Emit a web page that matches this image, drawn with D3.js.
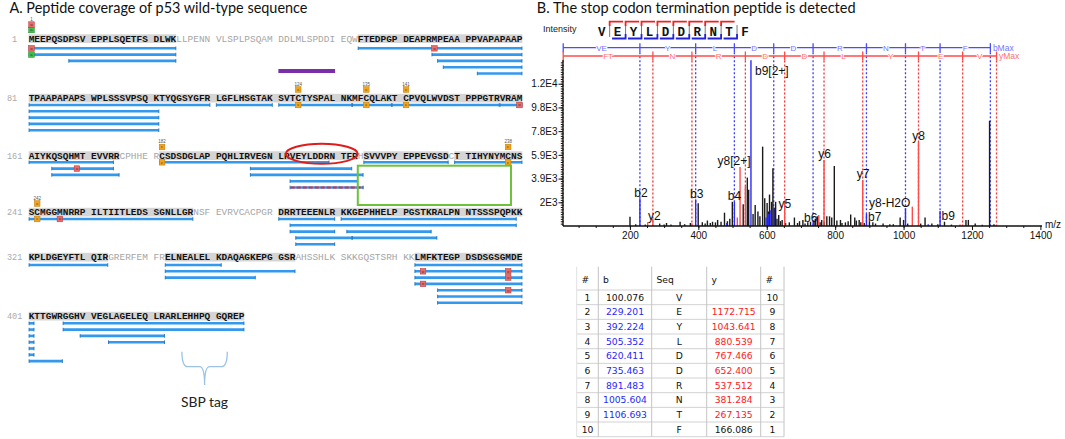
<!DOCTYPE html>
<html><head><meta charset="utf-8">
<script src="https://cdn.jsdelivr.net/npm/d3@7"></script>
<style>body{margin:0;background:#fff}svg{display:block}</style>
</head><body>
<svg id="c" width="1065" height="439"></svg>
<script>
// ================= DATA =================
const sequenceRows = [
  "MEEPQSDPSV EPPLSQETFS DLWKLLPENN VLSPLPSQAM DDLMLSPDDI EQWFTEDPGP DEAPRMPEAA PPVAPAPAAP",
  "TPAAPAPAPS WPLSSSVPSQ KTYQGSYGFR LGFLHSGTAK SVTCTYSPAL NKMFCQLAKT CPVQLWVDST PPPGTRVRAM",
  "AIYKQSQHMT EVVRRCPHHE RCSDSDGLAP PQHLIRVEGN LRVEYLDDRN TFRHSVVVPY EPPEVGSDCT TIHYNYMCNS",
  "SCMGGMNRRP ILTIITLEDS SGNLLGRNSF EVRVCACPGR DRRTEEENLR KKGEPHHELP PGSTKRALPN NTSSSPQPKK",
  "KPLDGEYFTL QIRGRERFEM FRELNEALEL KDAQAGKEPG GSRAHSSHLK SKKGQSTSRH KKLMFKTEGP DSDSGSGMDE",
  "KTTGWRGGHV VEGLAGELEQ LRARLEHHPQ GQREP"
];
const rowStartNumbers = [1, 81, 161, 241, 321, 401];
const coveredRanges = [[1,24],[54,175],[182,213],[215,228],[230,267],[281,333],[343,363],[383,435]];
// peptide: [start residue, end residue, lane]
const peptides = [
  [1,24,0],[54,80,0],[1,24,1],[66,80,1],[8,24,2],[67,80,2],[68,80,3],[73,80,4],
  [81,110,0],[111,120,0],[121,132,0],[133,139,0],[140,156,0],[157,160,0],
  [81,101,1],[81,101,2],[81,101,3],[81,101,4],
  [161,174,0],[182,209,0],[215,228,0],[230,240,0],[165,174,1],[197,212,1],
  [165,175,2],[197,214,2],[203,213,3],[203,214,4],
  [241,267,0],[281,290,0],[291,319,0],[283,319,1],[283,290,2],[292,305,2],
  [284,292,3],[293,306,3],[284,290,4],
  [321,333,0],[343,351,0],[383,400,0],[343,363,1],[383,400,1],[343,357,2],[383,400,2],
  [383,400,3],[387,400,4],[387,400,5],[387,400,6],
  [401,401,0],[407,435,0],[401,401,1],[407,435,1],[401,401,2],[410,422,2],
  [401,401,3],[414,422,3],[401,401,4],[401,401,5],[401,406,6]
];
const stopPeptide = [203, 214, 4];
const highlightedRegion = [41, 50];
const stopRegion = [214, 238];
const circledPeptide = [203, 213];
const sbpTag = [426, 432];
// modifications above the sequence: [residue, type]
const aboveMods = [[1,'A'],[1,'O'],[124,'C'],[135,'C'],[141,'C'],[182,'C'],[238,'C'],[242,'C']];
// modifications on peptide bars: [residue, lane, type]
const laneMods = [[1,0,'O'],[1,1,'A'],[66,0,'O'],[124,0,'C'],[135,0,'C'],[141,0,'C'],[160,0,'O'],
  [169,1,'O'],[182,0,'C'],[238,0,'C'],[242,0,'C'],[246,0,'O'],[384,1,'O'],[384,3,'O'],
  [398,1,'O'],[398,2,'O'],[398,4,'O']];

// Spectrum
const peptideSeq = ["V","E","Y","L","D","D","R","N","T","F"];
const bLadder = [229.201, 392.224, 505.352, 620.411, 735.463, 891.483, 1005.604, 1106.693, 1253.76];
const bLadderLetters = ["VE","Y","L","D","D","R","N","T","F"];
const yLadder = [267.135, 381.284, 537.512, 652.400, 767.466, 880.539, 1043.641, 1172.715, 1271.8];
const yLadderLetters = ["FT","N","R","D","D","L","Y","E","V"];
const ladderStart = 5;
const unassignedPeaks = [
  [200.2,770],[217,150],[245,120],[287,200],[300,120],[307,250],[320,120],[346.7,360],[360,150],
  [376.8,250],[399.6,1870],[411.6,300],[420,200],[426.5,450],[435,250],[441.5,350],[450,300],
  [456.4,500],[466.4,350],[476.5,1100],[485,400],[492,600],[499.4,2000],[531.2,1800],[543.2,4000],
  [547.2,3000],[560,1000],[566.2,1740],[574.2,1200],[580,800],[588,6560],[594.1,2300],[601.1,1900],
  [605,1200],[608.1,2600],[614.1,2000],[618,4770],[622,1500],[626,2000],[630,600],[635,900],
  [640,400],[645,500],[655,250],[666,300],[680.9,700],[690,250],[695.8,400],[705.7,500],[712,200],
  [720,300],[728,350],[738,450],[742,600],[747.7,800],[756,300],[760.6,500],[768,300],[775.6,800],
  [783.6,800],[790,700],[797.5,4960],[805,450],[815.5,500],[820,250],[830,300],[838,400],[845.4,950],
  [857.3,700],[862,450],[870.2,500],[875,300],[885,250],[900.2,400],[910.2,300],[918,200],[940.1,200],
  [960,150],[970,150],[990,700],[1000,500],[1012,200],[1050,200],[1062.8,700],[1082.7,200],[1100,150],
  [1119.6,350],[1140,120],[1182.4,500],[1189.4,500],[1209.4,200],[1230,100],[1251.4,8700],[1264.3,150]
];
const bIonPeaks = [[229.2,2300,"b2"],[392.2,2200,"b3"],[483,250,null],[505.4,2000,"b4"],
  [553.85,13700,"b9[2+]"],[598,700,null],[606,1000,null],[612,1300,null],[620.4,1500,null],
  [735.5,300,"b6"],[891.5,1000,"b7"],[1005.6,1460,null],[1072,150,null],[1106.7,1240,"b9"]];
const yIonPeaks = [[252,300,null],[267.1,600,"y2"],[381.3,220,null],[514,700,null],
  [522,4880,"y8[2+]"],[537.5,3300,null],[652.4,2000,"y5"],[752,900,null],[767.5,5450,"y6"],
  [880.5,3800,"y7"],[1025.6,1600,"y8-H2O"],[1043.6,6940,"y8"],[1165,120,null]];
const xTicks = [200,400,600,800,1000,1200,1400];
const yTicks = [1960,3920,5880,7840,9800,11760];
const yTickLabels = ["2E3","3.9E3","5.9E3","7.8E3","9.8E3","1.2E4"];

// Fragment table
const tableIndex = [1,2,3,4,5,6,7,8,9,10];
const tableB = ["100.076","229.201","392.224","505.352","620.411","735.463","891.483","1005.604","1106.693",""];
const tableSeq = ["V","E","Y","L","D","D","R","N","T","F"];
const tableY = ["","1172.715","1043.641","880.539","767.466","652.400","537.512","381.284","267.135","166.086"];
const tableIndexRev = [10,9,8,7,6,5,4,3,2,1];
const tableHeaders = ["#","b","Seq","y","#"];

// ================= DRAW =================
const svg = d3.select("#c");
const SANS = "Lato, 'Open Sans', sans-serif";
const ARIAL = "'Liberation Sans', Arial, sans-serif";
const MONO = "'Liberation Mono', 'DejaVu Sans Mono', monospace";

function fitText(sel, w) {
  const n = sel.node(); const fs = parseFloat(sel.attr("font-size"));
  const len = n.getComputedTextLength();
  if (len > 0) sel.attr("font-size", (fs * w / len).toFixed(2));
}

// ---- Titles ----
fitText(svg.append("text").attr("x", 9.5).attr("y", 12.8).attr("font-family", SANS)
  .attr("font-size", 14).attr("fill", "#111").text("A. Peptide coverage of p53 wild-type sequence"), 298);
fitText(svg.append("text").attr("x", 536.8).attr("y", 12.5).attr("font-family", SANS)
  .attr("font-size", 14).attr("fill", "#111").text("B. The stop codon termination peptide is detected"), 319);

// ---- Panel A ----
const cw = 5.674, x0 = 28.7;
const colScale = d3.scaleLinear().domain([0, 87]).range([x0, x0 + 87 * cw]);
const rowBase = [41.5, 101, 158.5, 215, 260, 319];
const laneTop = [48.3, 105, 162.3, 219, 265, 323.3];
const laneGap = 6.3;
const residues = sequenceRows.map(r => r.replace(/ /g, "")).join("").split("");
function rc(res) { const r = Math.floor((res - 1) / 80), i = (res - 1) % 80; return { r, col: i + Math.floor(i / 10) }; }
const xl = res => colScale(rc(res).col);
const xr = res => colScale(rc(res).col + 1);
const laneY = (res, lane) => laneTop[rc(res).r] + lane * laneGap;
const isCovered = res => coveredRanges.some(([s, e]) => res >= s && res <= e);

const gA = svg.append("g");
// coverage shading, split by rows
coveredRanges.forEach(([s, e]) => {
  let a = s;
  while (a <= e) {
    const r = rc(a).r; const rowEnd = Math.min(e, (r + 1) * 80);
    gA.append("rect").attr("x", xl(a)).attr("y", rowBase[r] - 7.2)
      .attr("width", xr(rowEnd) - xl(a)).attr("height", 8.7).attr("fill", "#d5d5d5");
    a = rowEnd + 1;
  }
});
// row numbers
gA.selectAll(".rn").data(rowStartNumbers).join("text")
  .attr("x", (d, i) => i === 0 ? 12 : 7).attr("y", (d, i) => rowBase[i])
  .attr("font-family", MONO).attr("font-size", 8.5).attr("fill", "#aaa").text(d => d);
// residues
gA.selectAll(".res").data(residues).join("text")
  .attr("x", (d, i) => xl(i + 1)).attr("y", (d, i) => rowBase[rc(i + 1).r])
  .attr("font-family", MONO).attr("font-size", 9.457)
  .attr("font-weight", (d, i) => isCovered(i + 1) ? "bold" : "normal")
  .attr("fill", (d, i) => isCovered(i + 1) ? "#111" : "#a5a5a5").text(d => d);

// peptide bars
const barG = gA.append("g");
peptides.forEach(([s, e, lane]) => {
  const y = laneY(s, lane), a = xl(s) + 0.4, b = xr(e) - 0.4;
  barG.append("line").attr("x1", a).attr("x2", b).attr("y1", y).attr("y2", y)
    .attr("stroke", "#3399ee").attr("stroke-width", 2.6);
  [a, b].forEach(x => barG.append("line").attr("x1", x).attr("x2", x).attr("y1", y - 1.8).attr("y2", y + 1.8)
    .attr("stroke", "#1f6fb8").attr("stroke-width", 0.9));
});
// stop-codon peptide overlay
{
  const [s, e, lane] = stopPeptide; const y = laneY(s, lane);
  barG.append("line").attr("x1", xl(s) + 1).attr("x2", xr(e)).attr("y1", y).attr("y2", y)
    .attr("stroke", "#ff2020").attr("stroke-width", 2.2).attr("stroke-dasharray", "4,2");
}
// purple region bar
gA.append("line").attr("x1", xl(highlightedRegion[0])).attr("x2", xr(highlightedRegion[1]))
  .attr("y1", 71).attr("y2", 71).attr("stroke", "#7a2fa8").attr("stroke-width", 4);

// modifications
const modColor = { C: "#f2a41c", O: "#ea6a6a", A: "#3fc04a" };
const modStroke = { C: "#c07a00", O: "#b83333", A: "#1f8a2a" };
const modLetter = { C: "c", O: "o", A: "a" };
function marker(cx, cy, t) {
  gA.append("rect").attr("x", cx - 2.8).attr("y", cy - 2.8).attr("width", 5.6).attr("height", 5.6)
    .attr("fill", modColor[t]).attr("stroke", modStroke[t]).attr("stroke-width", 0.5);
  gA.append("text").attr("x", cx).attr("y", cy + 1.4).attr("text-anchor", "middle")
    .attr("font-family", ARIAL).attr("font-size", 4.2).attr("fill", "#333").text(modLetter[t]);
}
laneMods.forEach(([res, lane, t]) => marker(xl(res) + cw / 2, laneY(res, lane), t));
const stackCount = {};
aboveMods.forEach(([res, t]) => {
  const k = stackCount[res] || 0; stackCount[res] = k + 1;
  const cy = rowBase[rc(res).r] - 11.5 - k * 5.4;
  marker(xl(res) + cw / 2, cy, t);
});
Object.keys(stackCount).forEach(res => {
  res = +res; const k = stackCount[res];
  const top = rowBase[rc(res).r] - 11.5 - (k - 1) * 5.4 - 3.2;
  gA.append("text").attr("x", xl(res) + cw / 2).attr("y", top - 0.8).attr("text-anchor", "middle")
    .attr("font-family", ARIAL).attr("font-size", 4.5).attr("fill", "#555").text(res);
});

// green box & red ellipse
gA.append("rect").attr("x", xl(stopRegion[0])).attr("y", 165.7)
  .attr("width", xr(stopRegion[1]) - xl(stopRegion[0])).attr("height", 39.3)
  .attr("fill", "none").attr("stroke", "#6cc33a").attr("stroke-width", 2);
gA.append("ellipse").attr("cx", (xl(circledPeptide[0]) + xr(circledPeptide[1])) / 2 - 2).attr("cy", 153.8)
  .attr("rx", 36).attr("ry", 10).attr("fill", "none").attr("stroke", "#e01b1b").attr("stroke-width", 2);

// SBP tag brace
{
  const a = xl(sbpTag[0]), b = xr(sbpTag[1]), m = (a + b) / 2, t = 351.7, c = 366.7, tip = 385;
  gA.append("path").attr("d",
    `M${a},${t} Q${a},${c} ${a + 6},${c} L${m - 5},${c} Q${m},${c} ${m},${tip} Q${m},${c} ${m + 5},${c} L${b - 6},${c} Q${b},${c} ${b},${t}`)
    .attr("fill", "none").attr("stroke", "#9cc2e6").attr("stroke-width", 1.3);
  fitText(gA.append("text").attr("x", m).attr("y", 407).attr("text-anchor", "middle")
    .attr("font-family", SANS).attr("font-size", 14).attr("fill", "#222").text("SBP tag"), 47);
}

// ---- Panel B: spectrum ----
const xS = d3.scaleLinear().domain([0, 1400]).range([561.5, 1040.4]);
const yS = d3.scaleLinear().domain([0, 13720]).range([226, 60]);
const gB = svg.append("g");

gB.append("text").attr("x", 543).attr("y", 32).attr("font-family", ARIAL).attr("font-size", 9)
  .attr("fill", "#222").text("Intensity");

// peptide header with fragment marks
const xP = d3.scalePoint().domain(d3.range(peptideSeq.length)).range([601.7, 745]);
gB.selectAll(".pl").data(peptideSeq).join("text").attr("x", (d, i) => xP(i)).attr("y", 35.8)
  .attr("text-anchor", "middle").attr("font-family", MONO).attr("font-weight", "bold")
  .attr("font-size", 12.5).attr("fill", "#111").text(d => d);
for (let i = 1; i < peptideSeq.length; i++) {
  const xs = (xP(i - 1) + xP(i)) / 2;
  gB.append("line").attr("x1", xs).attr("x2", xs).attr("y1", 25).attr("y2", 37)
    .attr("stroke", "#777").attr("stroke-width", 1);
  if (i <= peptideSeq.length - 2) {
    gB.append("path").attr("d", `M${xs},${26} L${xs},${21.7} L${xs + 13.5},${21.7}`)
      .attr("fill", "none").attr("stroke", "#ee2222").attr("stroke-width", 1.8);
  }
  if (i >= 2) {
    gB.append("path").attr("d", `M${xs},${34} L${xs},${38.5} L${xs - 13.5},${38.5}`)
      .attr("fill", "none").attr("stroke", "#2222dd").attr("stroke-width", 1.8);
  }
}

// ladders
const blueY = 47.7, redY = 56;
const dashG = gB.append("g");
function ladder(masses, letters, ly, col, txtCol, dashCol, label, startDash) {
  const pts = [ladderStart].concat(masses);
  gB.append("line").attr("x1", xS(ladderStart)).attr("x2", xS(masses[masses.length - 1]))
    .attr("y1", ly).attr("y2", ly).attr("stroke", col).attr("stroke-width", 1.3);
  pts.forEach((m, i) => {
    gB.append("line").attr("x1", xS(m)).attr("x2", xS(m)).attr("y1", ly - 4.5).attr("y2", ly + 4.5)
      .attr("stroke", col).attr("stroke-width", 1.3);
    if (i > 0 || startDash) {
      dashG.append("line").attr("x1", xS(m)).attr("x2", xS(m)).attr("y1", ly + 4.5).attr("y2", 226)
        .attr("stroke", dashCol).attr("stroke-width", 1.3).attr("stroke-dasharray", "2,2");
    }
  });
  letters.forEach((L, i) => {
    gB.append("text").attr("x", (xS(pts[i]) + xS(pts[i + 1])) / 2).attr("y", ly + 3)
      .attr("text-anchor", "middle").attr("font-family", ARIAL).attr("font-size", 8)
      .attr("fill", txtCol).attr("stroke", "#fff").attr("stroke-width", 2).attr("paint-order", "stroke")
      .text(L);
  });
  gB.append("text").attr("x", xS(masses[masses.length - 1]) + 2.5).attr("y", ly + 3.2)
    .attr("font-family", ARIAL).attr("font-size", 8.5).attr("fill", txtCol).text(label);
}
ladder(bLadder, bLadderLetters, blueY, "#4b4bff", "#7575ff", "#3d3dff", "bMax", false);
ladder(yLadder, yLadderLetters, redY, "#ff4b4b", "#ff7070", "#ff2d2d", "yMax", true);

// peaks
const peakG = gB.append("g");
function drawPeaks(arr, col) {
  peakG.selectAll(null).data(arr).join("line")
    .attr("x1", d => xS(d[0])).attr("x2", d => xS(d[0]))
    .attr("y1", yS(0)).attr("y2", d => yS(d[1]))
    .attr("stroke", col).attr("stroke-width", 1.4);
}
drawPeaks(unassignedPeaks, "#1a1a1a");
drawPeaks(yIonPeaks, "#ff4a4a");
drawPeaks(bIonPeaks, "#2a2aff");

// peak labels
const labelLayout = {
  "b2": { dx: 1, dy: -1.5 }, "b3": { dx: 1, dy: -1 }, "b4": { dx: 0, dy: -2 },
  "b9[2+]": { anchor: "start", dx: 4, dy: 15 }, "b6": { dx: -2.4, dy: -0.5 },
  "b7": { anchor: "start", dx: 1.5, dy: 7 }, "b9": { anchor: "start", dx: 1.5, dy: 9.5 },
  "y2": { dx: 1.6, dy: 1 }, "y8[2+]": { dx: -6, dy: -2 }, "y5": { dx: 0.3, dy: 6.5 },
  "y6": { dx: 0.5, dy: -2 }, "y7": { dx: 0.3, dy: -2 }, "y8": { dx: 0, dy: -2 },
  "y8-H2O": { anchor: "end", dx: -2, dy: 0 }
};
bIonPeaks.concat(yIonPeaks).filter(d => d[2]).forEach(d => {
  const L = labelLayout[d[2]] || { dx: 0, dy: -2 };
  gB.append("text").attr("x", xS(d[0]) + L.dx).attr("y", yS(d[1]) + L.dy)
    .attr("text-anchor", L.anchor || "middle").attr("font-family", ARIAL).attr("font-size", 12)
    .attr("fill", "#111").text(d[2]);
});

// axes
const axX = gB.append("g").attr("transform", "translate(0,226)");
axX.call(d3.axisBottom(xS).tickValues(d3.range(50, 1400, 50)).tickSize(2).tickFormat(""))
  .call(g => g.select(".domain").remove());
axX.append("g").call(d3.axisBottom(xS).tickValues(xTicks).tickSize(4).tickPadding(2).tickFormat(d3.format("d")))
  .call(g => g.select(".domain").remove())
  .call(g => g.selectAll("text").attr("font-family", ARIAL).attr("font-size", 10).attr("fill", "#111"));
axX.append("line").attr("x1", 563).attr("x2", 1042).attr("stroke", "#111").attr("stroke-width", 1.3);
axX.selectAll("line").attr("stroke", "#111");
gB.append("text").attr("x", 1045).attr("y", 228).attr("font-family", ARIAL).attr("font-size", 10)
  .attr("fill", "#111").text("m/z");

const axY = gB.append("g").attr("transform", "translate(563,0)");
axY.call(d3.axisLeft(yS).tickValues(d3.range(196, 13720, 196)).tickSize(2.2).tickFormat(""))
  .call(g => g.select(".domain").remove());
axY.append("g").call(d3.axisLeft(yS).tickValues(yTicks).tickSize(4.5).tickPadding(1)
    .tickFormat((d, i) => yTickLabels[i]))
  .call(g => g.select(".domain").remove())
  .call(g => g.selectAll("text").attr("font-family", ARIAL).attr("font-size", 10).attr("fill", "#111"));
axY.append("line").attr("y1", 60).attr("y2", 226).attr("stroke", "#111").attr("stroke-width", 1.3);
axY.selectAll("line").attr("stroke", "#111");

// ---- Fragment table ----
const TF = "'DejaVu Sans', Verdana, sans-serif";
const colEdges = [576.7, 598.3, 651.7, 706.7, 760.7, 784];
const tTop = 266.7, hdrBottom = 290, rowH = 14.67;
const rowY = d3.scaleLinear().domain([0, 10]).range([hdrBottom, hdrBottom + 10 * rowH]);
const gT = svg.append("g");
d3.range(11).forEach(i => gT.append("line").attr("x1", colEdges[0]).attr("x2", colEdges[5])
  .attr("y1", rowY(i)).attr("y2", rowY(i)).attr("stroke", "#d2d2d2").attr("stroke-width", 1));
colEdges.forEach((x, i) => gT.append("line").attr("x1", x).attr("x2", x).attr("y1", tTop).attr("y2", rowY(10))
  .attr("stroke", i === 0 ? "#e0e0e0" : "#c4c4c4").attr("stroke-width", 1));
tableHeaders.forEach((h, i) => gT.append("text").attr("x", colEdges[i] + 4.8).attr("y", 282.7)
  .attr("font-family", TF).attr("font-size", 9.2).attr("fill", "#111").text(h));
const cols = [tableIndex, tableB, tableSeq, tableY, tableIndexRev];
const colFill = [
  () => "#111",
  i => (i >= 1 && i <= 8) ? "#1f1fff" : "#111",
  () => "#111",
  i => (i >= 1 && i <= 8) ? "#ff2020" : "#111",
  () => "#111"
];
cols.forEach((arr, c) => {
  const cx = (colEdges[c] + colEdges[c + 1]) / 2;
  arr.forEach((v, i) => gT.append("text").attr("x", cx).attr("y", rowY(i) + rowH / 2 + 3.3)
    .attr("text-anchor", "middle").attr("font-family", TF).attr("font-size", 9.2)
    .attr("fill", colFill[c](i)).text(v));
});
</script>
</body></html>
